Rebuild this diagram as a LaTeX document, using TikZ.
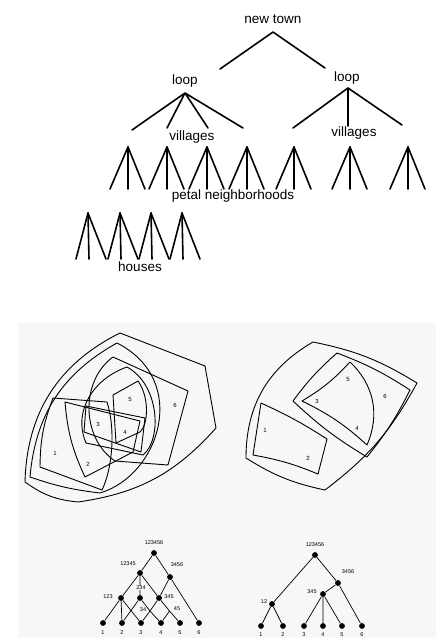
\documentclass[tikz,border=0pt]{standalone}
\usepackage{fontspec}
\setmainfont{Liberation Sans}
\begin{document}
\begin{tikzpicture}[x=1pt,y=-1pt,
  treeline/.style={line width=1.6pt, line cap=round, line join=round},
  lbl/.style={font=\fontsize{13.5}{13.5}\selectfont, inner sep=0pt},
  venn/.style={line width=0.9pt, line join=round},
  num/.style={font=\fontsize{6}{6}\selectfont, inner sep=0pt},
  dot/.style={circle, fill=black, inner sep=0pt, minimum size=5.8pt},
  small/.style={font=\fontsize{5.5}{5.5}\selectfont, inner sep=0.5pt},
  latt/.style={line width=0.7pt},
  paper/.style={fill=black!3, draw=none}]
\useasboundingbox (0,0) rectangle (436,638);
\fill[paper] (18,323) rectangle (436,638);

% ---------------- top tree ----------------
\node[lbl] (newtown) at (273,19) {new town};
\coordinate (nt) at (273,32);
\coordinate (ntl) at (220,69);
\coordinate (ntr) at (325,68);
\draw[treeline] (ntl) -- (nt) -- (ntr);

\node[lbl] (loopL) at (185,81) {loop};
\node[lbl] (loopR) at (347,78) {loop};
\coordinate (la) at (185,93);
\coordinate (ra) at (348,88);
\draw[treeline] (la) -- (132,130) (la) -- (167,128) (la) -- (208,128) (la) -- (243,128);
\draw[treeline] (ra) -- (293,128) (ra) -- (348,126) (ra) -- (402,125);
\node[lbl] (villL) at (192,137) {villages};
\node[lbl] (villR) at (354,133) {villages};

\foreach \x [count=\i] in {128,167,207,247,294,350,408} {
  \coordinate (p\i) at (\x,147);
  \draw[treeline] (p\i) ++(-18,42) -- (p\i) -- ++(17,42);
  \draw[treeline] (p\i) -- ++(0,42);
}
\node[lbl] (petal) at (233,196) {petal neighborhoods};

\foreach \x [count=\i] in {88,120,151,182} {
  \coordinate (h\i) at (\x,213);
  \draw[treeline] (h\i) ++(-12,46) -- (h\i) -- ++(18,46);
  \draw[treeline] (h\i) -- ++(1,46);
}
\node[lbl] (houses) at (140,267) {houses};

% ---------------- left semilattice venn ----------------
\draw[venn] (25,482) to[bend left=31] (120,333) -- (205,366) -- (216,428)
  to[bend left=20] (78,502) to[bend left=15] (25,482) -- cycle;
\draw[venn] (30,477) to[bend left=28] (117,343) .. controls (190,380) and (160,475) ..
  (100,493) to[bend left=6] (30,477) -- cycle;
\draw[venn] (113,357) -- (188,391) -- (168,465) -- (115,461) to[bend left=55] (113,357) -- cycle;
\draw[venn] (127,367) .. controls (160,385) and (162,440) .. (143,455) -- (86,443)
  .. controls (72,410) and (95,378) .. (127,367) -- cycle;
\draw[venn] (113,395) -- (138,381) .. controls (150,398) and (148,425) .. (140,432) -- (116,443) -- cycle;
\draw[venn] (86,406) -- (145,418) -- (141,452) -- (84,432) -- cycle;
\draw[venn] (65,402) -- (140,421) -- (133,452) -- (85,477) to[bend left=10] (65,402) -- cycle;
\draw[venn] (53,398) -- (107,402) .. controls (116,430) and (112,470) .. (102,490) -- (40,467)
  to[bend left=10] (53,398) -- cycle;
\node[num] (L5) at (130,399) {5};
\node[num] (L6) at (175,405) {6};
\node[num] (L3) at (98,424) {3};
\node[num] (L4) at (125,432) {4};
\node[num] (L1) at (55,453) {1};
\node[num] (L2) at (88,464) {2};

% ---------------- right tree venn ----------------
\draw[venn] (313,342) to[bend left=10] (417,383) to[bend left=12] (325,490)
  to[bend left=10] (246,458) to[bend left=30] (313,342) -- cycle;
\draw[venn] (337,353) to[bend left=6] (410,390) to[bend left=6] (367,457)
  to[bend left=6] (293,401) to[bend left=6] (337,353) -- cycle;
\draw[venn] (350,362) to[bend left=35] (367,445) to[bend right=8] (302,401)
  to[bend right=8] (350,362) -- cycle;
\draw[venn] (261,403) to[bend left=4] (327,439) -- (318,474) to[bend right=6] (253,455) -- (261,403) -- cycle;
\node[num] (R5) at (348,379) {5};
\node[num] (R6) at (385,396) {6};
\node[num] (R3) at (317,401) {3};
\node[num] (R4) at (357,428) {4};
\node[num] (R1) at (265,430) {1};
\node[num] (R2) at (308,458) {2};

% ---------------- left lattice ----------------
\node[dot] (a123456) at (154,553) {};
\node[dot] (a12345) at (140,573) {};
\node[dot] (a3456) at (170,577) {};
\node[dot] (a123) at (121,598) {};
\node[dot] (a234) at (140,598) {};
\node[dot] (a345) at (159,598) {};
\coordinate (a34) at (150,611);
\coordinate (a45) at (169.5,611);
\foreach \x [count=\i] in {103,122,141,161,180,199} {
  \node[dot] (a\i) at (\x,623) {};
  \node[small] (al\i) at (\x,633) {\i};
}
\draw[latt] (a123456) -- (a12345) (a123456) -- (a3456)
  (a12345) -- (a123) (a12345) -- (a234) (a12345) -- (a345)
  (a3456) -- (a345) (a3456) -- (a6)
  (a123) -- (a1) (a123) -- (a2) (a123) -- (a3)
  (a234) -- (a2) (a234) -- (a34) (a345) -- (a34) (a345) -- (a45)
  (a34) -- (a3) (a34) -- (a4) (a45) -- (a4) (a45) -- (a5);
\node[small] (t123456) at (154,543) {123456};
\node[small] (t12345) at (128,564) {12345};
\node[small] (t3456) at (177,565) {3456};
\node[small] (t123) at (108,597) {123};
\node[small, fill=black!3] (t234) at (141,588) {234};
\node[small] (t345) at (169,597) {345};
\node[small] (t34) at (143,610) {34};
\node[small] (t45) at (177,609) {45};

% ---------------- right lattice ----------------
\node[dot] (b123456) at (315,555) {};
\node[dot] (b3456) at (338,583) {};
\node[dot] (b345) at (323,594) {};
\node[dot] (b12) at (272,604) {};
\foreach \x [count=\i] in {261,283,304,323,342,362} {
  \node[dot] (b\i) at (\x,626) {};
  \node[small] (bl\i) at (\x,635) {\i};
}
\draw[latt] (b123456) -- (b12) (b123456) -- (b3456)
  (b3456) -- (b345) (b3456) -- (b6)
  (b345) -- (b3) (b345) -- (b4) (b345) -- (b5)
  (b12) -- (b1) (b12) -- (b2);
\node[small] (u123456) at (315,545) {123456};
\node[small] (u3456) at (348,572) {3456};
\node[small] (u345) at (312,592) {345};
\node[small] (u12) at (264,602) {12};
\end{tikzpicture}
\end{document}
